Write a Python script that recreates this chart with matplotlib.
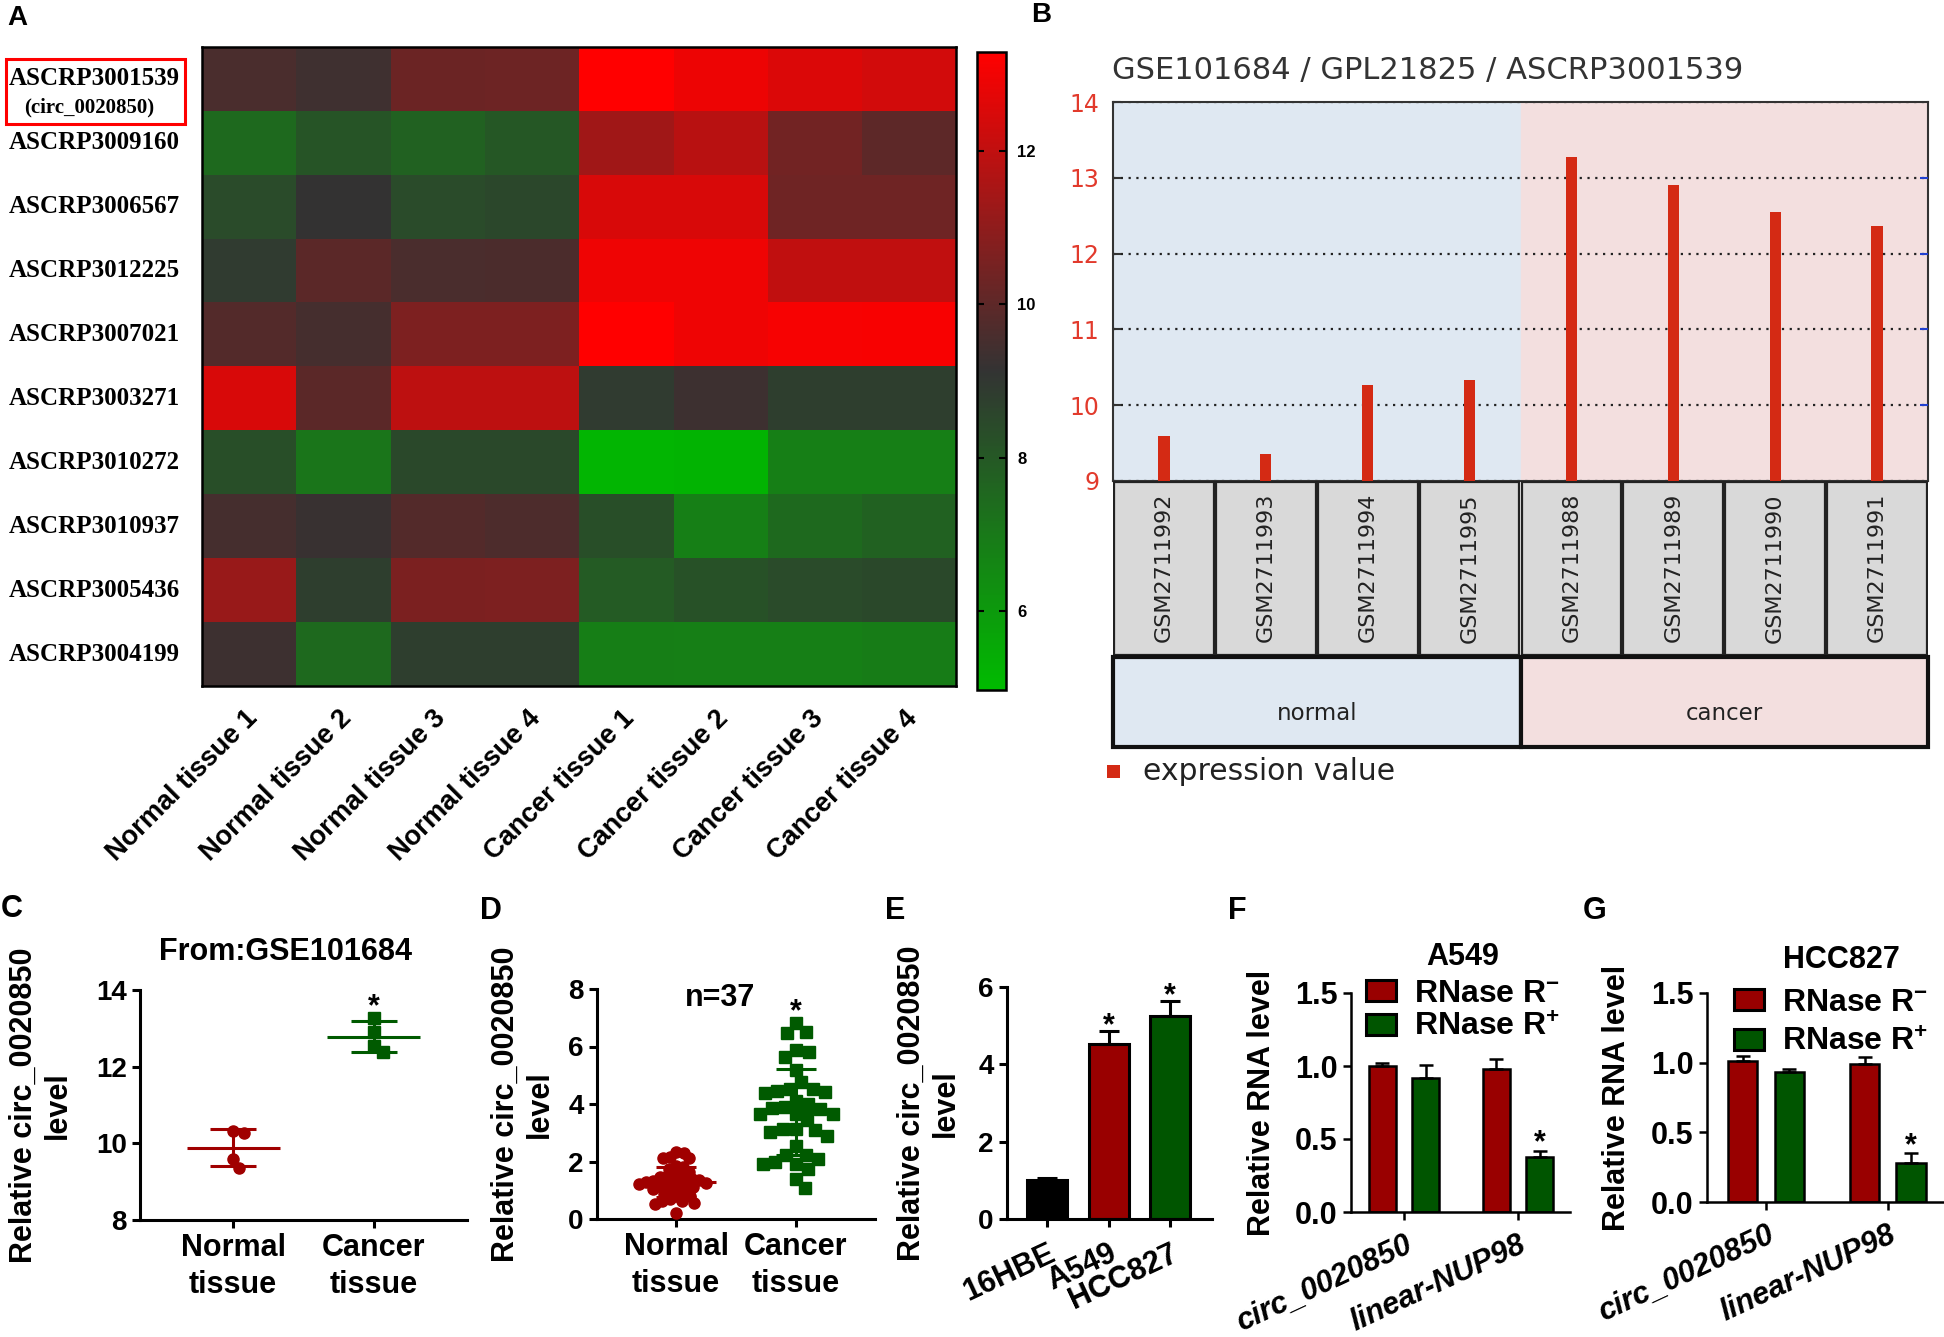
import numpy as np
import matplotlib
matplotlib.use("Agg")
import matplotlib.pyplot as plt
from matplotlib.colors import LinearSegmentedColormap
from matplotlib.patches import Rectangle, Patch
from matplotlib.transforms import blended_transform_factory

W, H = 1944, 1337

plt.rcParams['font.family'] = ['Liberation Sans', 'DejaVu Sans']
plt.rcParams['font.weight'] = 'bold'
plt.rcParams['axes.labelweight'] = 'bold'
plt.rcParams['mathtext.fontset'] = 'custom'
plt.rcParams['mathtext.rm'] = 'Liberation Sans:bold'
plt.rcParams['mathtext.bf'] = 'Liberation Sans:bold'
plt.rcParams['mathtext.default'] = 'rm'

# ---------------- data ----------------
# A: heatmap
heat_rows = ["ASCRP3001539", "ASCRP3009160", "ASCRP3006567", "ASCRP3012225", "ASCRP3007021",
             "ASCRP3003271", "ASCRP3010272", "ASCRP3010937", "ASCRP3005436", "ASCRP3004199"]
heat_cols = ["Normal tissue 1", "Normal tissue 2", "Normal tissue 3", "Normal tissue 4",
             "Cancer tissue 1", "Cancer tissue 2", "Cancer tissue 3", "Cancer tissue 4"]
heat_vals = [
    [9.60, 9.36, 10.27, 10.33, 13.28, 12.91, 12.55, 12.37],
    [7.45, 8.10, 7.70, 8.00, 11.37, 11.85, 10.40, 9.98],
    [8.40, 9.15, 8.40, 8.50, 12.50, 12.50, 10.35, 10.35],
    [8.90, 9.95, 9.60, 9.62, 12.95, 12.95, 12.00, 12.00],
    [9.80, 9.50, 10.65, 10.65, 13.30, 12.95, 13.10, 13.15],
    [12.50, 9.95, 11.95, 11.95, 8.90, 9.35, 8.80, 8.80],
    [8.30, 7.10, 8.45, 8.45, 5.15, 5.20, 6.80, 6.80],
    [9.50, 9.25, 9.80, 9.65, 8.30, 6.80, 7.45, 7.70],
    [11.20, 8.80, 10.60, 10.65, 7.90, 8.20, 8.40, 8.45],
    [9.35, 7.45, 8.80, 8.80, 6.85, 6.80, 6.80, 6.90],
]
cbar_ticks = [6, 8, 10, 12]

# B: GEO profile
gsm_ids = ["GSM2711992", "GSM2711993", "GSM2711994", "GSM2711995",
           "GSM2711988", "GSM2711989", "GSM2711990", "GSM2711991"]
gsm_expr = [9.60, 9.36, 10.27, 10.33, 13.28, 12.91, 12.55, 12.37]
gsm_groups = ["normal", "cancer"]
gsm_group_size = [4, 4]

# C uses the same GSE101684 values (normal = first four, cancer = last four)

# D: 37 paired tissues
d_normal = [2.32, 2.29, 2.15, 2.12, 2.11, 1.86, 1.80, 1.75, 1.62, 1.55, 1.50, 1.46, 1.42,
            1.38, 1.35, 1.32, 1.30, 1.28, 1.26, 1.24, 1.21, 1.18, 1.15, 1.12, 1.08, 1.03,
            0.98, 0.92, 0.86, 0.80, 0.79, 0.68, 0.62, 0.61, 0.56, 0.53, 0.22]
d_cancer = [6.82, 6.52, 6.48, 5.89, 5.80, 5.65, 5.17, 4.76, 4.53, 4.53, 4.45, 4.41, 4.38,
            4.12, 4.00, 3.89, 3.87, 3.83, 3.66, 3.66, 3.66, 3.43, 3.14, 3.14, 3.08, 3.02,
            2.90, 2.53, 2.24, 2.24, 2.09, 1.98, 1.92, 1.90, 1.75, 1.40, 1.07]

# E: cell lines
cell_lines = ["16HBE", "A549", "HCC827"]
cell_mean = [1.00, 4.52, 5.24]
cell_err = [0.06, 0.35, 0.39]

# F / G: RNase R
rnase_genes = ["circ_0020850", "linear-NUP98"]
a549_minus = [1.00, 0.98]
a549_minus_err = [0.02, 0.07]
a549_plus = [0.92, 0.38]
a549_plus_err = [0.09, 0.04]
hcc_minus = [1.01, 0.99]
hcc_minus_err = [0.04, 0.05]
hcc_plus = [0.93, 0.28]
hcc_plus_err = [0.025, 0.07]

RED = "#a00000"
GREEN = "#005a00"

fig = plt.figure(figsize=(W / 100, H / 100), dpi=100)


def box(x0, y0, x1, y1):
    return [x0 / W, 1 - y1 / H, (x1 - x0) / W, (y1 - y0) / H]


def ftext(x, y, s, **kw):
    fig.text(x / W, 1 - y / H, s, **kw)


def style_axes(ax, lw=2.2, labelsize=20):
    for s in ["top", "right"]:
        ax.spines[s].set_visible(False)
    for s in ["left", "bottom"]:
        ax.spines[s].set_linewidth(lw)
    ax.tick_params(width=lw, length=6, labelsize=labelsize, direction="out")


def swarm_x(ax, vals, gap_px):
    # simple beeswarm: put each point as near the centre as it can go
    x0, x1 = ax.get_xlim()
    y0, y1 = ax.get_ylim()
    sx = ax.bbox.width / (x1 - x0)
    sy = ax.bbox.height / (y1 - y0)
    vals = np.asarray(vals, float)
    out = np.zeros(len(vals))
    placed = []
    for k in np.argsort(-vals):
        y = vals[k] * sy
        cands = [0.0]
        for px, py in placed:
            dy = abs(py - y)
            if dy < gap_px:
                dx = np.sqrt(gap_px ** 2 - dy ** 2)
                cands += [px + dx, px - dx]
        cands.sort(key=abs)
        for c in cands:
            if all((c - px) ** 2 + (y - py) ** 2 >= gap_px ** 2 - 1e-6 for px, py in placed):
                out[k] = c / sx
                placed.append((c, y))
                break
    return out


# ---------------- A: heatmap ----------------
cmap = LinearSegmentedColormap.from_list("gkr", ["#00bb00", "#333333", "#ff0000"])
axa = fig.add_axes(box(202, 47, 956, 686))
im = axa.imshow(np.array(heat_vals), cmap=cmap, vmin=4.97, vmax=13.29,
                aspect="auto", interpolation="nearest")
axa.set_xticks([])
axa.set_yticks([])
for s in axa.spines.values():
    s.set_linewidth(1.8)
tr = blended_transform_factory(axa.transAxes, axa.transData)
for i, name in enumerate(heat_rows):
    axa.text(-0.256, i, name, transform=tr, family="Liberation Serif", fontsize=18,
             ha="left", va="center")
axa.text(-0.150, 0.45, "(circ_0020850)", transform=tr, family="Liberation Serif",
         fontsize=15, ha="center", va="center")
axa.add_patch(Rectangle((-0.2599, -0.31), 0.2374, 1.015, transform=tr, fill=False,
                        ec="#ff0000", lw=2.2, clip_on=False))
for j, name in enumerate(heat_cols):
    axa.text(j - 0.05, 9.8, name, rotation=45, rotation_mode="anchor",
             ha="right", va="top", fontsize=19.5)

cax = fig.add_axes(box(977, 52, 1006, 690))
cb = fig.colorbar(im, cax=cax, ticks=cbar_ticks)
cb.outline.set_linewidth(1.8)
cax.tick_params(direction="in", length=5, width=1.5, labelsize=12, left=True, right=True, pad=8)

ftext(17, 18, "A", fontsize=20, ha="center", va="center")
ftext(1041, 15, "B", fontsize=20, ha="center", va="center")

# ---------------- B: GEO profile ----------------
axb = fig.add_axes(box(1113, 102, 1928, 481))
xb = np.arange(len(gsm_ids))
axb.set_xlim(-0.5, len(gsm_ids) - 0.5)
axb.set_ylim(9, 14)
n_norm = gsm_group_size[0]
axb.axvspan(-0.5, n_norm - 0.5, color="#dfe8f2", zorder=0)
axb.axvspan(n_norm - 0.5, len(gsm_ids) - 0.5, color="#f3dfdf", zorder=0)
axb.bar(xb, gsm_expr, width=0.11, color="#d42a14", zorder=3)
axb.set_yticks(range(9, 15))
axb.grid(axis="y", linestyle=(0, (1, 2.5)), color="#222222", lw=1.6, zorder=1)
axb.set_xticks([])
axb.tick_params(axis="y", direction="in", length=6, width=1.5, color="#333333",
                labelcolor="#e23a2c", labelsize=17, pad=10)
for lbl in axb.get_yticklabels():
    lbl.set_fontfamily("DejaVu Sans")
    lbl.set_fontweight("normal")
for s in axb.spines.values():
    s.set_linewidth(1.5)
    s.set_color("#333333")
tw = axb.twinx()
tw.set_ylim(9, 14)
tw.set_yticks([10, 11, 12, 13])
tw.tick_params(direction="in", length=6, width=1.5, color="#2040d0", labelright=False)
for s in tw.spines.values():
    s.set_visible(False)

ftext(1112, 70, "GSE101684 / GPL21825 / ASCRP3001539", fontsize=22, family="DejaVu Sans",
      fontweight="normal", color="#333333", ha="left", va="center")

axs = fig.add_axes(box(1113, 481, 1928, 748))
axs.set_xlim(-0.5, len(gsm_ids) - 0.5)
axs.set_ylim(0, 1)
axs.axis("off")
for i, gid in enumerate(gsm_ids):
    axs.add_patch(Rectangle((i - 0.49, 0.35), 0.98, 0.645, fc="#d9d9d9", ec="#222222", lw=1.6))
    axs.text(i, 0.675, gid, rotation=90, ha="center", va="center", fontsize=16,
             family="DejaVu Sans", fontweight="normal", color="#222222")
start = -0.5
for g, n, col in zip(gsm_groups, gsm_group_size, ["#dfe8f2", "#f3dfdf"]):
    axs.add_patch(Rectangle((start, 0.005), n, 0.335, fc=col, ec="#111111", lw=3, clip_on=False))
    axs.text(start + n / 2, 0.13, g, ha="center", va="center", fontsize=16.5,
             family="DejaVu Sans", fontweight="normal", color="#222222")
    start += n
fig.add_artist(Rectangle((1107 / W, 1 - 778 / H), 13 / W, 13 / H, transform=fig.transFigure,
                         fc="#d42a14", ec="none"))
ftext(1143, 772, "expression value", fontsize=21.5, family="DejaVu Sans", fontweight="normal",
      color="#222222", ha="left", va="center")


# ---------------- C / D: dot plots ----------------
def dot_panel(rect, normal, cancer, ylim, yticks, label_x, gaps):
    ax = fig.add_axes(box(*rect))
    ax.set_xlim(-0.66, 1.66)
    ax.set_ylim(*ylim)
    style_axes(ax)
    ax.set_yticks(yticks)
    ax.set_xticks([0, 1])
    ax.set_xticklabels(["Normal\ntissue", "Cancer\ntissue"], fontsize=22, linespacing=1.3)
    for i, (vals, mk, col) in enumerate([(normal, "o", RED), (cancer, "s", GREEN)]):
        offs = swarm_x(ax, vals, gaps[i])
        ax.plot(i + offs, vals, ls="none", marker=mk, ms=8, color=col, mec=col, zorder=3)
        m, s = np.mean(vals), np.std(vals, ddof=1)
        ax.hlines(m, i - 0.33, i + 0.33, color=col, lw=2.2, zorder=4)
        ax.hlines([m - s, m + s], i - 0.165, i + 0.165, color=col, lw=2.2, zorder=4)
        ax.vlines(i, m - s, m + s, color=col, lw=2.2, zorder=4)
    rng = ylim[1] - ylim[0]
    ax.text(1, max(cancer) + 0.045 * rng, "*", ha="center", va="center", fontsize=22)
    ax.set_ylabel("Relative circ_0020850\nlevel", fontsize=22)
    ax.yaxis.set_label_coords(label_x, 0.5)
    return ax


dot_panel((140, 990, 467, 1220), gsm_expr[:4], gsm_expr[4:], (8, 14), [8, 10, 12, 14],
          -0.205, (11, 11))
ftext(285, 952, "From:GSE101684", fontsize=22, ha="center", va="center")
dot_panel((597, 989, 875, 1219), d_normal, d_cancer, (0, 8), [0, 2, 4, 6, 8],
          -0.15, (7.5, 13))
ftext(720, 998, "n=37", fontsize=22, ha="center", va="center")

# ---------------- E: cell lines ----------------
axe = fig.add_axes(box(1007, 987, 1212, 1219))
xe = np.arange(len(cell_lines))
axe.set_xlim(-0.65, 2.68)
axe.set_ylim(0, 6)
style_axes(axe)
axe.bar(xe, cell_mean, width=0.65, color=["#000000", "#990000", "#005500"], edgecolor="k", lw=2.2)
axe.errorbar(xe, cell_mean, yerr=[np.zeros(len(xe)), cell_err], fmt="none", ecolor="k",
             elinewidth=2.2, capsize=7, capthick=2.2)
axe.set_yticks([0, 2, 4, 6])
axe.set_xticks(xe)
axe.set_xticklabels(cell_lines, rotation=25, ha="right", rotation_mode="anchor", fontsize=22)
axe.tick_params(axis="x", pad=8)
for k in range(1, len(xe)):
    axe.text(xe[k], cell_mean[k] + cell_err[k] + 0.12, "*", ha="center", va="center", fontsize=22)
axe.set_ylabel("Relative circ_0020850\nlevel", fontsize=22)
axe.yaxis.set_label_coords(-0.224, 0.5)


# ---------------- F / G: RNase R ----------------
def rnase_panel(rect, minus, minus_err, plus, plus_err, xlim, label_x, leg_xy, lspace):
    ax = fig.add_axes(box(*rect))
    xg = np.arange(len(rnase_genes))
    ax.set_xlim(*xlim)
    ax.set_ylim(0, 1.5)
    style_axes(ax, 1.8, 22)
    ax.bar(xg - 0.19, minus, 0.24, color="#990000", edgecolor="k", lw=1.8)
    ax.bar(xg + 0.19, plus, 0.24, color="#005500", edgecolor="k", lw=1.8)
    ax.errorbar(xg - 0.19, minus, yerr=[np.zeros(len(xg)), minus_err], fmt="none", ecolor="k",
                elinewidth=1.8, capsize=5, capthick=1.8)
    ax.errorbar(xg + 0.19, plus, yerr=[np.zeros(len(xg)), plus_err], fmt="none", ecolor="k",
                elinewidth=1.8, capsize=5, capthick=1.8)
    ax.set_yticks([0, 0.5, 1.0, 1.5])
    ax.set_xticks(xg)
    ax.set_xticklabels(rnase_genes, rotation=25, ha="right", rotation_mode="anchor",
                       fontsize=22, fontstyle="italic")
    ax.tick_params(axis="x", pad=7)
    ax.text(1.19, plus[1] + plus_err[1] + 0.05, "*", ha="center", va="center", fontsize=22)
    ax.set_ylabel("Relative RNA level", fontsize=22)
    ax.yaxis.set_label_coords(label_x, 0.5)
    handles = [Patch(facecolor="#990000", edgecolor="k", lw=2.2),
               Patch(facecolor="#005500", edgecolor="k", lw=2.2)]
    ax.legend(handles, ["RNase R$^{-}$", "RNase R$^{+}$"], loc="upper left",
              bbox_to_anchor=(leg_xy[0] / W, 1 - leg_xy[1] / H), bbox_transform=fig.transFigure,
              frameon=False, fontsize=23, handlelength=0.95, handleheight=0.65,
              handletextpad=0.55, borderpad=0, borderaxespad=0, labelspacing=lspace)
    return ax


rnase_panel((1351, 993, 1570, 1212), a549_minus, a549_minus_err, a549_plus, a549_plus_err,
            (-0.465, 1.456), -0.34, (1366, 979), 0.12)
ftext(1463, 957, "A549", fontsize=22, ha="center", va="center")
rnase_panel((1707, 993, 1944, 1202), hcc_minus, hcc_minus_err, hcc_plus, hcc_plus_err,
            (-0.484, 1.46), -0.316, (1734, 988), 0.3)
ftext(1841, 960, "HCC827", fontsize=22, ha="center", va="center")

for letter, (x, y) in zip("CDEFG", [(12, 909), (491, 911), (895, 911), (1237, 911), (1595, 911)]):
    ftext(x, y, letter, fontsize=22, ha="center", va="center")

fig.savefig("out.png", dpi=100)
